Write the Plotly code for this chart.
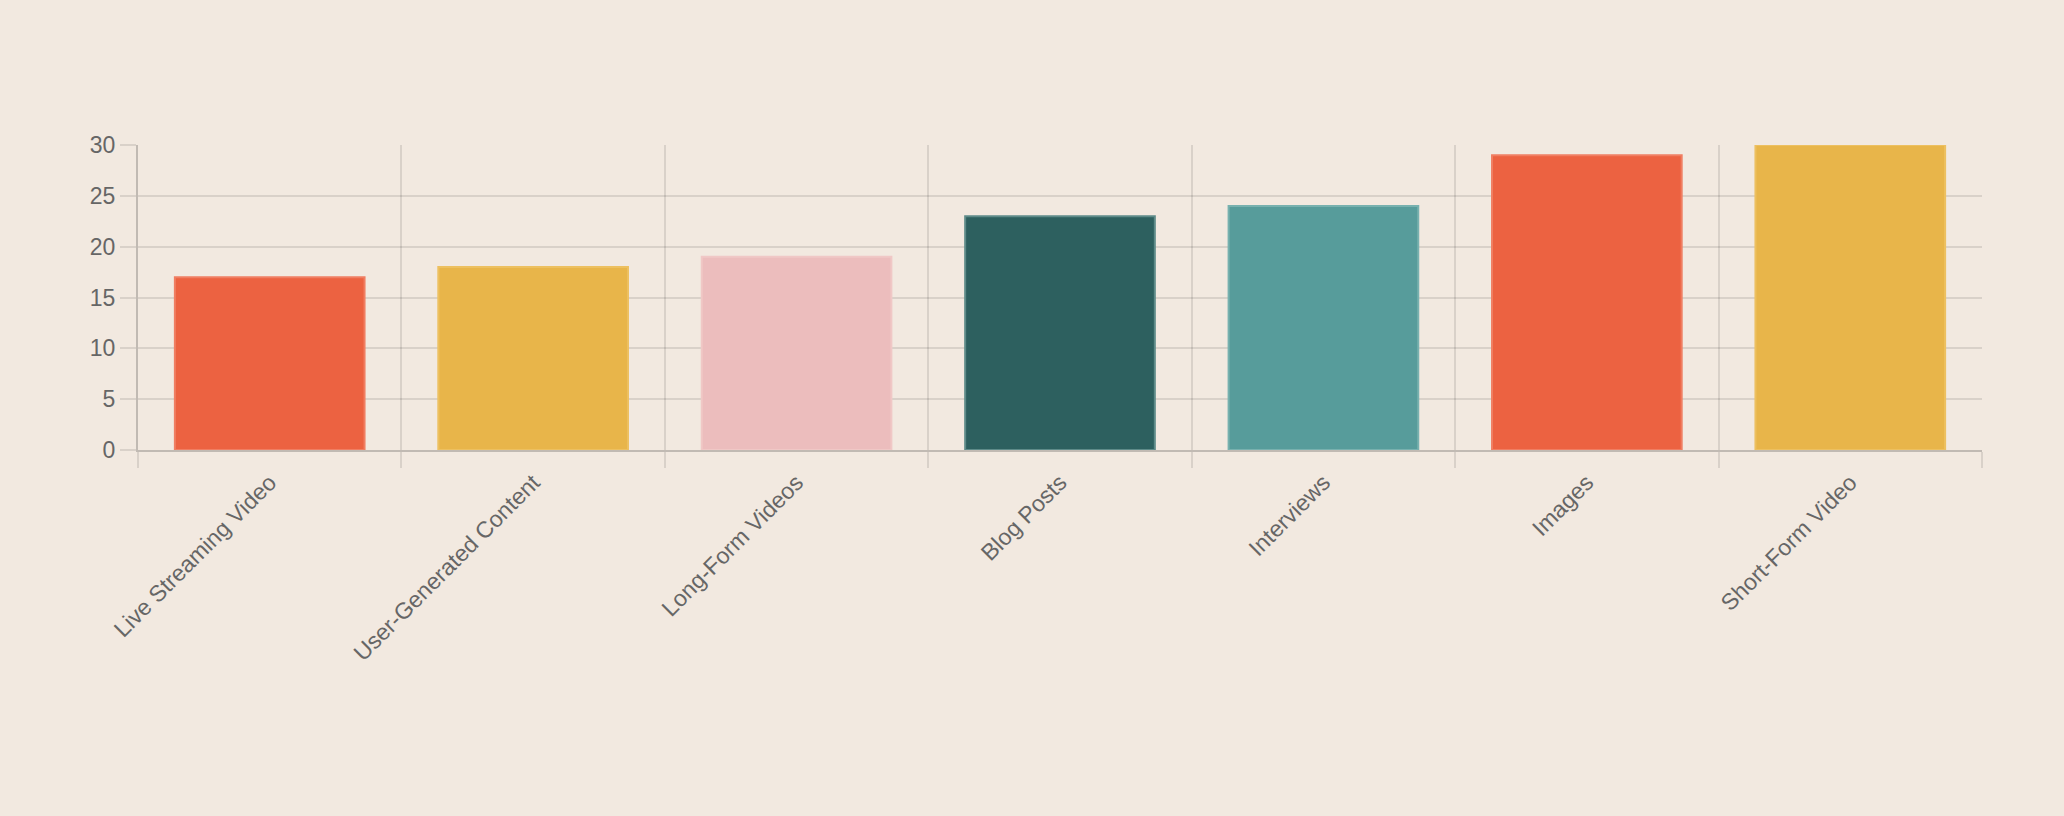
import plotly.graph_objects as go

# Content format popularity
categories = [
    'Live Streaming Video',
    'User-Generated Content',
    'Long-Form Videos',
    'Blog Posts',
    'Interviews',
    'Images',
    'Short-Form Video',
]
values = [17, 18, 19, 23, 24, 29, 30]
bar_colors = ['#EC6241', '#E8B54A', '#ECBDBD', '#2D605F', '#579C9B', '#EC6241', '#E8B54A']
border_colors = ['#F07E62', '#EDC060', '#F0C8C6', '#5E8B89', '#78B1AF', '#F07E62', '#EDC060']

bg = '#F2E9E0'
grid = 'rgba(0,0,0,0.1)'
font_family = 'Helvetica Neue, Helvetica, Arial, Liberation Sans, sans-serif'

fig = go.Figure()
fig.add_trace(
    go.Bar(
        x=categories,
        y=values,
        marker=dict(color=bar_colors, line=dict(color=border_colors, width=2)),
        width=0.72,
        hoverinfo='x+y',
    )
)

fig.update_layout(
    width=2064,
    height=816,
    paper_bgcolor=bg,
    plot_bgcolor=bg,
    showlegend=False,
    margin=dict(l=138, r=82, t=145, b=366),
    font=dict(family=font_family, size=23, color='#666666'),
)

fig.update_xaxes(
    tickson='boundaries',
    showgrid=True,
    gridcolor=grid,
    gridwidth=1.5,
    ticks='outside',
    ticklen=16,
    tickcolor=grid,
    tickwidth=1.5,
    tickangle=-45,
    showline=True,
    linecolor='rgba(0,0,0,0.2)',
    linewidth=2,
    zeroline=False,
    ticklabelstandoff=8,
)

fig.update_yaxes(
    range=[0, 30],
    dtick=5,
    showgrid=True,
    gridcolor=grid,
    gridwidth=1.5,
    ticks='outside',
    ticklen=16,
    tickcolor=grid,
    tickwidth=1.5,
    showline=True,
    linecolor='rgba(0,0,0,0.2)',
    linewidth=2,
    zeroline=False,
    ticklabelstandoff=0,
)

# drop the default page margin so the figure fills the window
page_css = (
    "document.body.style.margin='0';"
    "document.body.style.overflow='hidden';"
    "document.body.style.background='" + bg + "';"
)

fig.write_html("out.html", post_script=page_css, config={'displayModeBar': False})
